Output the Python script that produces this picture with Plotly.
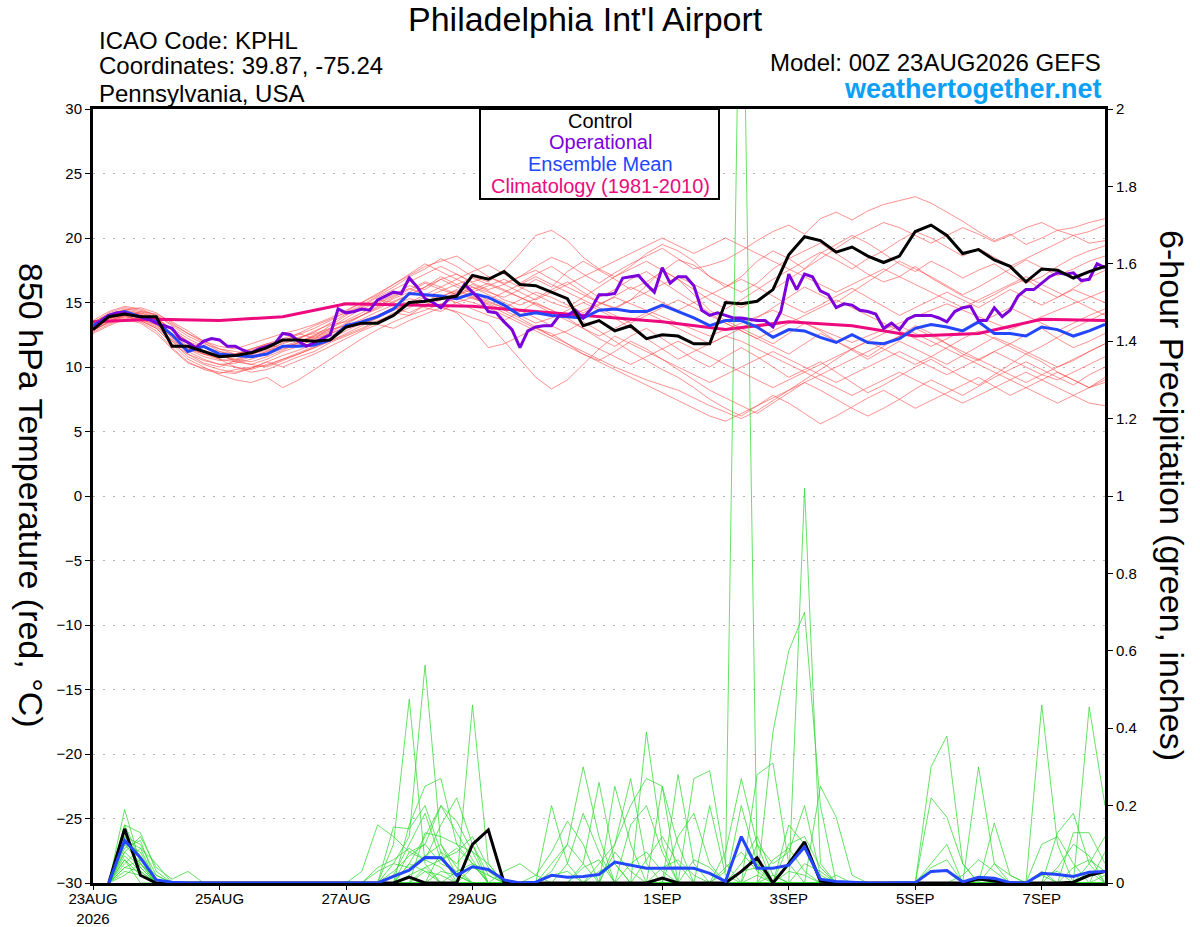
import pandas as pd
import plotly.graph_objects as go

# ---------------- data ----------------
RUN_START = "2026-08-23 00:00"

# Control 850 hPa temperature (6-hourly, 65 steps)
CONTROL_T = [12.9, 13.9, 14.1, 13.9, 13.9, 11.6, 11.6, 11.2, 10.8, 10.9,
             11.1, 11.5, 12.1, 12.1, 12.0, 12.1, 13.1, 13.4, 13.4, 14.0,
             15.0, 15.1, 15.3, 15.5, 17.1, 16.8, 17.4, 16.4, 16.3, 15.8,
             15.3, 13.2, 13.6, 12.8, 13.2, 12.2, 12.5, 12.4, 11.8, 11.8,
             15.0, 14.9, 15.1, 16.0, 18.7, 20.1, 19.8, 18.9, 19.3, 18.6,
             18.1, 18.6, 20.5, 21.0, 20.2, 18.8, 19.1, 18.3, 17.8, 16.6,
             17.6, 17.5, 16.9, 17.4, 17.8]

# Ensemble mean temperature (6-hourly, 65 steps)
MEAN_T = [13.2, 14.0, 14.3, 13.9, 13.5, 12.5, 11.2, 11.6, 11.0, 10.9,
          10.8, 11.0, 11.6, 11.6, 11.7, 12.1, 13.2, 13.5, 13.9, 14.5,
          15.7, 15.6, 15.5, 15.3, 15.7, 15.4, 14.8, 14.0, 14.2, 14.0,
          13.9, 13.8, 14.4, 14.5, 14.3, 14.3, 14.8, 14.3, 13.8, 13.2,
          13.6, 13.6, 13.1, 12.3, 12.9, 12.8, 12.3, 11.9, 12.5, 11.9,
          11.8, 12.2, 13.0, 13.3, 13.1, 12.8, 13.5, 12.6, 12.6, 12.4,
          13.1, 12.9, 12.4, 12.8, 13.3]

# Operational temperature (3-hourly, 129 steps)
OPER_T = [12.9, 13.6, 14.0, 14.2, 14.2, 14.0, 13.9, 13.7, 13.4, 13.2,
          13.0, 12.2, 11.9, 11.5, 12.0, 12.2, 12.1, 11.6, 11.6, 11.3,
          11.1, 11.4, 11.6, 11.8, 12.6, 12.5, 12.0, 11.6, 11.9, 12.2,
          12.5, 14.5, 14.2, 14.3, 14.5, 14.4, 15.2, 15.5, 15.8, 15.7,
          16.9, 16.2, 15.3, 15.0, 14.6, 15.3, 15.5, 16.4, 15.8, 15.2,
          14.3, 14.2, 13.5, 12.9, 11.5, 12.8, 13.1, 13.2, 13.2, 14.0,
          14.0, 14.4, 13.8, 14.5, 15.6, 15.6, 15.7, 16.9, 17.0, 17.1,
          16.4, 15.8, 17.7, 16.5, 17.0, 17.0, 16.3, 14.4, 14.0, 14.2,
          14.0, 13.8, 13.8, 13.7, 13.6, 13.6, 13.1, 14.3, 17.2, 16.0,
          17.2, 17.0, 15.9, 15.6, 14.6, 14.9, 14.8, 14.4, 14.3, 14.1,
          13.0, 13.4, 12.9, 13.7, 14.0, 14.0, 14.0, 13.8, 13.5, 14.3,
          14.6, 14.7, 13.6, 13.6, 14.6, 13.9, 14.4, 15.5, 16.0, 16.0,
          16.5, 17.0, 17.3, 17.2, 17.3, 16.7, 16.8, 18.0, 17.7]

# Climatology 1981-2010 (daily, 17 days)
CLIM_T = [13.5, 13.7, 13.6, 13.9, 14.9, 14.8, 14.7, 14.3, 13.9, 13.5,
          12.9, 13.5, 13.2, 12.4, 12.6, 13.7, 13.6]

# Ensemble members temperature (6-hourly, 65 steps each)
MEMBERS_T = [
    [13.0, 13.8, 14.2, 14.0, 13.6,
     12.4, 11.5, 11.0, 10.6, 10.4, 10.8, 11.2, 11.9, 12.3, 12.6, 13.0,
     13.8, 14.5, 15.0, 15.6, 16.3, 16.0, 16.8, 17.2, 16.5, 16.0,
     16.4, 17.0, 17.8, 18.5, 18.0, 17.2, 16.5, 17.3, 18.0, 18.6, 19.2, 18.4, 17.6, 17.9, 18.3,
     19.0, 19.8, 20.5, 21.0, 20.3, 21.5, 22.0, 21.4, 22.1, 22.6, 22.9, 23.2, 22.7, 22.0, 21.3, 20.5,
     19.8, 20.3, 19.5, 20.0, 20.6, 20.2, 20.5, 21.0],
    [13.3, 14.0, 14.5, 14.3, 13.9,
     12.8, 12.0, 11.5, 11.2, 11.0, 11.4, 11.8, 12.0, 12.6, 13.2, 13.7,
     14.2, 14.8, 15.5, 16.2, 17.0, 17.6, 18.4, 17.8, 17.0, 16.6,
     17.5, 18.8, 20.2, 20.6, 19.8, 18.5, 17.6, 17.0, 17.8, 18.8, 19.5, 19.0, 18.2, 17.0, 16.2,
     17.0, 18.2, 19.0, 18.4, 17.6, 18.8, 19.5, 20.2, 19.6, 18.8, 18.0, 17.4, 18.2, 17.6, 16.9, 17.5,
     18.0, 17.2, 16.5, 17.0, 17.8, 18.5, 19.0, 19.4],
    [12.8, 13.5, 14.0, 14.2, 13.8,
     12.2, 11.0, 10.3, 10.0, 10.5, 10.9, 11.5, 12.0, 12.2, 12.8, 13.3,
     13.5, 14.0, 14.6, 15.3, 15.8, 16.5, 16.0, 15.6, 16.2, 15.8,
     15.4, 16.0, 16.8, 16.2, 17.4, 18.2, 17.5, 16.8, 16.0, 16.6, 17.4, 18.3, 17.9, 17.0, 16.4,
     15.8, 16.5, 17.6, 18.4, 19.0, 19.6, 18.8, 18.0, 17.2, 16.6, 17.0, 17.8, 16.9, 16.2, 15.5, 15.0,
     15.6, 16.3, 16.8, 16.0, 15.4, 16.1, 16.9, 17.5],
    [13.5, 14.1, 14.4, 14.0, 13.7,
     13.0, 12.2, 11.6, 11.0, 10.4, 10.2, 10.6, 11.2, 11.6, 12.2, 13.0,
     13.6, 14.2, 14.9, 15.5, 16.1, 15.6, 15.2, 15.8, 16.4, 15.9,
     15.2, 14.8, 15.3, 16.0, 16.6, 15.8, 15.0, 14.5, 15.2, 16.3, 17.5, 16.8, 15.6, 14.4, 13.6,
     13.0, 12.4, 11.8, 12.6, 13.4, 12.8, 12.0, 11.4, 10.8, 11.6, 12.4, 13.2, 12.6, 11.8, 11.0, 10.5,
     11.2, 11.8, 12.5, 13.0, 12.2, 11.5, 12.0, 12.6],
    [13.2, 13.9, 14.3, 14.1, 13.3,
     12.0, 10.8, 10.2, 9.8, 9.6, 9.9, 10.4, 10.9, 11.3, 11.8, 12.4,
     13.0, 13.3, 13.8, 14.5, 15.0, 14.6, 14.3, 15.0, 15.4, 14.8,
     14.2, 13.6, 13.0, 12.4, 12.8, 13.5, 12.8, 12.0, 11.2, 10.5, 9.8, 9.2, 8.4, 7.5, 6.8,
     6.2, 7.0, 7.8, 7.2, 6.4, 5.6, 6.2, 6.9, 7.6, 8.2, 7.5, 6.8, 7.4, 8.0, 8.6, 9.2,
     8.5, 7.8, 8.4, 9.0, 9.6, 9.0, 8.4, 9.2],
    [13.0, 13.6, 14.0, 13.5, 12.8,
     11.5, 10.4, 9.8, 9.5, 9.8, 10.0, 10.1, 10.6, 11.0, 11.5, 12.0,
     12.5, 13.0, 13.6, 14.0, 14.6, 15.2, 14.7, 14.2, 13.0, 11.5,
     11.8, 12.4, 13.0, 12.6, 11.8, 11.0, 10.5, 11.2, 12.0, 11.4, 10.6, 9.8, 9.0, 8.2, 7.6,
     7.0, 6.4, 7.2, 8.0, 8.8, 8.2, 7.5, 6.8, 6.2, 6.8, 7.5, 8.3, 9.0, 8.4, 7.8, 8.5,
     9.2, 9.8, 10.4, 9.8, 9.2, 8.6, 9.4, 10.0],
    [12.7, 13.3, 13.8, 13.6, 13.0,
     11.8, 11.0, 10.5, 10.2, 10.0, 9.6, 9.8, 10.3, 10.8, 11.2, 11.9,
     12.4, 12.9, 13.5, 14.2, 14.0, 14.8, 15.4, 15.0, 14.5, 14.0,
     13.6, 14.3, 15.0, 14.4, 13.8, 13.0, 12.2, 11.6, 12.4, 13.0, 12.2, 11.4, 10.6, 10.0, 10.8,
     11.5, 10.8, 10.0, 9.2, 9.8, 10.4, 9.6, 8.8, 8.0, 8.6, 9.3, 10.0, 10.6, 9.9, 9.2, 8.6,
     9.4, 10.2, 11.0, 10.4, 9.6, 9.0, 8.4, 8.8],
    [13.4, 14.2, 14.6, 14.4, 14.0,
     13.2, 12.4, 11.8, 11.4, 11.2, 11.0, 11.3, 11.6, 11.8, 12.4, 13.2,
     14.0, 14.6, 15.2, 15.0, 15.6, 16.2, 17.0, 16.4, 15.8, 16.3,
     16.8, 16.2, 15.6, 15.0, 14.6, 15.4, 16.2, 17.0, 17.6, 18.2, 17.5, 16.8, 16.0, 15.2, 14.5,
     15.2, 16.0, 16.8, 17.5, 18.2, 18.9, 18.3, 17.6, 18.4, 19.0, 19.8, 20.5, 20.0, 19.3, 18.6, 19.2,
     18.5, 17.8, 18.4, 19.0, 19.6, 20.2, 19.6, 19.8],
    [13.1, 13.7, 14.1, 13.9, 13.5,
     12.5, 11.6, 11.0, 10.7, 10.9, 11.3, 11.7, 11.5, 11.9, 12.5, 12.9,
     13.2, 13.7, 14.3, 14.8, 15.3, 15.0, 15.5, 15.9, 15.4, 15.0,
     14.6, 15.2, 15.8, 15.4, 14.8, 14.2, 14.8, 15.5, 16.2, 15.6, 15.0, 14.4, 15.0, 15.6, 16.2,
     16.8, 16.2, 15.5, 14.8, 14.2, 14.8, 15.5, 16.1, 15.4, 14.7, 14.0, 14.6, 15.2, 15.8, 15.2, 14.6,
     15.3, 16.0, 15.4, 14.8, 15.4, 16.0, 15.5, 15.0],
    [12.9, 13.4, 13.9, 13.7, 13.1,
     12.0, 11.2, 10.6, 10.2, 10.3, 10.6, 11.0, 11.4, 11.7, 12.1, 12.6,
     13.1, 13.6, 14.0, 14.6, 15.1, 14.7, 15.2, 15.7, 15.3, 14.9,
     14.4, 13.8, 13.1, 12.4, 11.8, 11.2, 10.6, 10.0, 9.5, 9.0, 8.6, 8.2, 7.6, 7.0, 6.5,
     6.0, 6.6, 7.4, 8.2, 9.0, 9.8, 10.6, 11.4, 12.0, 11.4, 10.8, 10.2, 10.8, 11.5, 12.2, 12.8,
     12.2, 11.6, 11.0, 11.6, 12.3, 13.0, 13.6, 14.2],
    [13.6, 14.3, 14.7, 14.5, 14.0,
     13.3, 12.6, 12.0, 11.6, 11.4, 11.8, 12.2, 12.6, 12.9, 13.3, 13.8,
     14.4, 15.0, 15.6, 16.4, 17.2, 18.0, 17.4, 16.8, 17.4, 17.9,
     17.2, 16.5, 17.2, 17.8, 17.0, 16.2, 15.4, 16.0, 16.8, 17.4, 16.6, 15.8, 15.0, 14.2, 13.4,
     12.8, 12.2, 11.6, 11.0, 11.8, 12.6, 12.0, 11.3, 10.6, 11.3, 12.0, 11.4, 10.8, 10.2, 10.9, 11.6,
     12.3, 11.8, 11.2, 10.6, 10.0, 10.5, 11.2, 11.8],
    [13.2, 13.8, 14.2, 14.1, 13.6,
     12.6, 11.8, 11.2, 10.9, 10.6, 10.4, 10.8, 11.3, 11.9, 12.3, 12.7,
     13.3, 14.0, 14.7, 15.4, 16.0, 16.6, 16.2, 15.6, 16.0, 16.5,
     16.0, 15.4, 14.8, 14.2, 13.6, 13.0, 12.4, 13.0, 13.6, 14.2, 13.6, 13.0, 12.4, 11.8, 12.4,
     13.0, 13.8, 14.6, 15.4, 16.2, 15.6, 15.0, 15.8, 16.6, 17.4, 18.2, 17.6, 17.0, 16.3, 15.6, 16.2,
     16.9, 17.6, 18.3, 17.7, 17.1, 17.6, 18.2, 18.6],
    [12.6, 13.2, 13.7, 13.4, 12.6,
     11.4, 10.3, 9.9, 9.6, 9.5, 9.9, 10.4, 10.0, 10.5, 11.0, 11.6,
     12.2, 12.8, 13.3, 13.0, 13.6, 14.1, 14.6, 14.3, 13.8, 13.4,
     12.0, 10.6, 9.2, 8.3, 9.0, 10.2, 11.4, 12.4, 11.8, 11.2, 10.6, 10.0, 9.4, 8.8, 9.4,
     10.0, 10.6, 11.2, 10.6, 10.0, 9.4, 8.8, 9.4, 10.0, 10.6, 11.2, 10.6, 10.0, 9.4, 10.0, 10.6,
     11.2, 10.6, 10.0, 9.4, 9.0, 9.6, 10.2, 10.8],
    [13.0, 13.7, 14.2, 13.9, 13.4,
     12.3, 11.4, 10.8, 10.5, 10.6, 11.0, 11.4, 11.8, 12.2, 12.7, 13.4,
     14.1, 14.7, 15.4, 16.0, 16.6, 17.2, 17.8, 17.2, 16.6, 17.0,
     16.5, 17.0, 17.5, 16.8, 16.2, 15.6, 15.0, 14.6, 15.2, 15.8, 16.4, 17.0, 16.4, 15.8, 15.2,
     14.6, 15.2, 16.0, 16.8, 17.6, 18.4, 19.2, 20.0, 20.6, 21.2, 20.8, 20.2, 19.6, 20.2, 20.8, 20.3,
     19.7, 20.2, 20.8, 21.2, 20.6, 20.8, 21.2, 21.5],
    [13.3, 13.9, 14.4, 14.2, 13.8,
     12.9, 12.0, 11.2, 10.6, 10.0, 9.8, 10.2, 10.6, 11.1, 11.6, 12.2,
     12.8, 13.4, 14.0, 14.6, 14.2, 14.8, 15.4, 16.0, 15.5, 15.1,
     14.6, 14.0, 13.4, 13.8, 14.4, 15.0, 14.4, 13.8, 13.0, 12.2, 11.4, 10.6, 11.2, 11.8, 12.4,
     12.0, 11.4, 10.8, 10.2, 9.6, 9.0, 8.4, 7.8, 8.4, 9.0, 9.6, 9.0, 8.4, 7.8, 7.2, 7.8,
     8.4, 9.0, 9.6, 9.0, 8.4, 7.8, 7.2, 7.0],
    [12.8, 13.5, 14.1, 13.8, 13.2,
     12.1, 11.4, 11.0, 10.8, 11.0, 11.4, 11.8, 12.2, 12.6, 12.2, 12.6,
     13.0, 13.4, 13.9, 14.4, 14.9, 15.4, 15.9, 16.4, 16.9, 16.4,
     15.9, 15.4, 14.9, 14.4, 13.9, 14.4, 14.9, 15.4, 14.9, 14.4, 13.9, 13.4, 12.9, 12.4, 12.9,
     13.4, 13.9, 14.4, 13.9, 13.4, 12.9, 12.4, 11.9, 12.4, 12.9, 13.4, 13.9, 14.4, 14.9, 14.4, 13.9,
     13.4, 12.9, 13.4, 13.9, 14.4, 14.9, 15.4, 15.9],
    [13.4, 13.8, 14.0, 13.6, 13.0,
     11.8, 10.6, 10.0, 9.4, 9.0, 8.8, 9.2, 8.4, 9.0, 9.8, 10.6,
     11.4, 12.2, 12.9, 13.5, 14.0, 14.4, 14.9, 15.3, 15.0, 14.6,
     14.0, 13.4, 12.8, 12.2, 11.6, 11.0, 10.4, 9.8, 9.2, 8.6, 8.0, 7.4, 6.8, 6.2, 5.8,
     6.4, 7.0, 7.6, 8.2, 8.8, 9.4, 10.0, 10.6, 11.2, 11.8, 12.4, 13.0, 12.4, 11.8, 11.2, 10.6,
     10.0, 9.4, 8.8, 9.4, 10.0, 10.6, 11.2, 11.8],
    [13.1, 13.6, 14.0, 14.3, 14.1,
     13.5, 12.8, 12.0, 11.4, 11.0, 10.8, 11.2, 11.6, 12.0, 12.4, 12.8,
     13.4, 14.0, 14.5, 15.1, 15.6, 16.2, 16.8, 16.2, 15.7, 15.2,
     15.8, 16.4, 17.0, 16.4, 15.8, 15.2, 14.6, 14.0, 13.4, 14.0, 14.6, 15.2, 14.6, 14.0, 13.4,
     12.8, 12.2, 12.8, 13.4, 14.0, 14.6, 15.2, 14.6, 14.0, 13.4, 12.8, 12.2, 11.6, 12.2, 12.8, 13.4,
     14.0, 14.6, 14.0, 13.4, 12.8, 13.4, 14.0, 14.5],
    [12.9, 13.5, 13.9, 13.7, 13.3,
     12.5, 11.9, 11.3, 10.9, 10.5, 10.2, 10.0, 10.5, 11.0, 11.5, 12.0,
     12.6, 13.2, 13.8, 14.4, 15.0, 15.6, 16.2, 16.8, 16.2, 15.6,
     15.0, 14.4, 13.8, 13.2, 12.6, 12.0, 11.4, 10.8, 10.2, 10.8, 11.4, 12.0, 11.4, 10.8, 10.2,
     9.6, 9.0, 8.4, 9.0, 9.6, 10.2, 10.8, 11.4, 12.0, 12.6, 13.2, 12.6, 12.0, 11.4, 10.8, 10.2,
     9.6, 9.0, 8.4, 7.8, 7.2, 7.8, 8.4, 9.0],
    [13.5, 14.0, 14.4, 14.6, 14.2,
     13.4, 12.6, 11.9, 11.2, 10.8, 11.2, 11.6, 12.0, 12.5, 13.0, 13.6,
     14.3, 15.0, 15.7, 16.4, 17.1, 17.8, 18.2, 18.6, 17.8, 17.0,
     16.4, 15.8, 15.2, 15.8, 16.4, 17.0, 17.6, 18.2, 18.8, 19.4, 20.0, 19.4, 18.8, 19.4, 20.0,
     19.4, 18.8, 18.2, 17.6, 17.0, 16.4, 15.8, 16.4, 17.0, 17.6, 17.0, 16.4, 15.8, 15.2, 14.6, 15.2,
     15.8, 16.4, 17.0, 16.4, 15.8, 15.2, 14.6, 14.0],
]

# 6-hour precipitation (inches), steps 06Z 23AUG ... 00Z 08SEP (64 steps)
CONTROL_P = [0, .14, .02, 0, 0, 0, 0, 0,
             0, 0, 0, 0, 0, 0, 0, 0,
             0, 0, 0, .015, 0, 0, 0, .10,
             .137, 0, 0, 0, 0, 0, 0, 0,
             0, 0, 0, .013, 0, 0, 0, 0,
             .03, .065, 0, .05, .106, .005, 0, 0,
             0, 0, 0, 0, 0, 0, 0, .01,
             .005, 0, 0, 0, 0, .002, .02, .03]

MEAN_P = [0, .11, .065, .008, .002, 0, 0, 0,
          0, 0, 0, 0, 0, 0, 0, 0,
          0, 0, .017, .033, .066, .065, .02, .042,
          .035, .008, 0, .002, .02, .015, .017, .022,
          .054, .046, .038, .038, .039, .038, .025, .004,
          .12, .038, .038, .046, .093, .01, .004, .002,
          0, 0, 0, .001, .03, .032, .003, .015,
          .012, .001, 0, .025, .022, .017, .028, .03]

MEMBERS_P = [
    [0, .19, .05, 0, 0, 0, 0, 0,  0, 0, 0, 0, 0, 0, 0, 0,
     0, 0, .05, .12, .563, .10, .02, 0,  0, 0, 0, 0, .05, .10, .30, .12,
     0, 0, 0, 0, 0, 0, 0, .03,  2.7, .05, 0, 0, 0, 0, 0, 0,
     0, 0, 0, 0, .30, .38, .05, 0,  0, 0, 0, .02, 0, 0, 0, 0],
    [0, .15, .13, .03, 0, 0, 0, 0,  0, 0, 0, 0, 0, 0, 0, 0,
     0, 0, .10, .475, .05, 0, 0, .46,  .05, 0, 0, 0, 0, 0, 0, 0,
     .10, .27, .05, 0, 0, 0, 0, 0,  0, 0, 0, 0, 1.02, .05, 0, 0,
     0, 0, 0, 0, 0, 0, 0, 0,  0, 0, 0, .46, .10, 0, 0, 0],
    [0, .12, .10, .02, 0, 0, 0, 0,  0, 0, 0, 0, 0, 0, 0, 0,
     0, 0, 0, .15, .25, .27, .10, .05,  0, 0, 0, 0, 0, 0, 0, 0,
     0, 0, .39, .10, 0, 0, 0, 0,  0, 0, .39, .60, .70, .20, 0, 0,
     0, 0, 0, 0, 0, 0, 0, 0,  0, 0, 0, 0, 0, 0, .455, .20],
    [0, .08, .12, .04, .01, .03, 0, 0,  0, 0, 0, 0, 0, 0, 0, 0,
     0, 0, .145, .14, .20, .08, 0, 0,  0, 0, 0, 0, .20, .05, 0, 0,
     0, 0, 0, 0, .28, .05, 0, 0,  0, .28, .31, .05, 0, 0, 0, 0,
     0, 0, 0, 0, .22, .17, .05, 0,  .155, .02, 0, 0, 0, 0, 0, 0],
    [0, .10, .08, 0, 0, 0, 0, 0,  0, 0, 0, 0, 0, 0, 0, 0,
     .03, .15, .12, .08, .10, .20, .16, .08,  0, 0, 0, 0, 0, 0, .05, .26,
     .05, 0, 0, 0, 0, 0, 0, .08,  .27, .10, 0, 0, 0, 0, 0, 0,
     0, 0, 0, 0, 0, 0, 0, .30,  .05, 0, 0, 0, .13, .18, .05, 0],
    [0, .05, .09, .05, 0, 0, 0, 0,  0, 0, 0, 0, 0, 0, 0, 0,
     0, 0, 0, .08, .06, .15, .22, .10,  0, 0, 0, 0, 0, 0, 0, 0,
     .25, .10, 0, 0, 0, .27, .29, .05,  0, 0, 0, 0, 0, .25, .17, .02,
     0, 0, 0, 0, 0, 0, 0, 0,  0, 0, 0, 0, 0, .13, .13, .05],
    [0, .15, .06, 0, 0, 0, 0, 0,  0, 0, 0, 0, 0, 0, 0, 0,
     0, 0, 0, 0, .13, .12, .10, .08,  .05, 0, 0, 0, 0, 0, 0, .05,
     .10, .20, .27, .25, 0, 0, 0, 0,  .05, .12, .02, 0, 0, 0, 0, 0,
     0, 0, 0, 0, .05, .10, 0, 0,  0, 0, 0, .10, .12, .05, 0, 0],
    [0, .07, .03, 0, 0, 0, 0, 0,  0, 0, 0, 0, 0, 0, 0, 0,
     0, .04, .06, .09, .06, .04, 0, 0,  0, 0, 0, .02, .08, .16, .10, 0,
     0, 0, 0, .25, .10, 0, 0, 0,  0, 0, 0, .15, .10, 0, 0, 0,
     0, 0, 0, 0, 0, 0, 0, 0,  0, 0, 0, 0, 0, 0, 0, .08],
    [0, .12, .07, .01, 0, 0, 0, 0,  0, 0, 0, 0, 0, 0, 0, 0,
     0, 0, 0, .05, .12, .20, .13, .06,  0, 0, 0, 0, 0, .05, .18, .08,
     0, 0, 0, 0, 0, 0, .20, .02,  0, .10, .05, .08, .20, .02, 0, 0,
     0, 0, 0, 0, 0, 0, 0, 0,  .05, .02, 0, 0, 0, 0, 0, 0],
    [0, .09, .11, 0, 0, 0, 0, 0,  0, 0, 0, 0, 0, 0, 0, 0,
     0, 0, .02, .10, .18, .06, .08, .12,  .04, 0, 0, 0, 0, 0, 0, 0,
     0, .15, .20, .08, 0, 0, 0, 0,  .20, .05, 0, 0, 0, 0, 0, 0,
     0, 0, 0, 0, 0, 0, 0, 0,  0, 0, 0, 0, .04, .10, .07, 0],
    [0, .04, .06, .02, 0, 0, 0, 0,  0, 0, 0, 0, 0, 0, 0, 0,
     0, 0, 0, 0, 0, .08, .05, .10,  .02, 0, 0, 0, 0, 0, 0, 0,
     0, 0, 0, 0, .12, .18, .05, 0,  0, 0, 0, .10, .12, .04, 0, 0,
     0, 0, 0, 0, .04, .06, 0, 0,  0, 0, 0, 0, 0, 0, 0, 0],
    [0, .13, .04, 0, 0, 0, 0, 0,  0, 0, 0, 0, 0, 0, 0, 0,
     0, 0, .03, .07, .10, .05, .03, 0,  0, 0, 0, 0, .03, .10, .05, 0,
     0, 0, 0, 0, 0, 0, 0, 0,  0, 0, .06, .09, .03, 0, 0, 0,
     0, 0, 0, 0, 0, 0, 0, 0,  0, 0, 0, 0, 0, 0, .05, .12],
    [0, .06, .02, 0, 0, 0, 0, 0,  0, 0, 0, 0, 0, 0, 0, 0,
     0, .03, .05, .04, .07, .10, .04, 0,  0, 0, 0, 0, 0, 0, 0, 0,
     .08, .03, 0, 0, 0, 0, 0, .04,  .08, .03, 0, 0, 0, 0, 0, 0,
     0, 0, 0, 0, 0, 0, .02, .06,  .03, 0, 0, 0, 0, 0, 0, 0],
    [0, .10, .05, 0, 0, 0, 0, 0,  0, 0, 0, 0, 0, 0, 0, 0,
     0, 0, 0, 0, .04, .06, .09, .05,  0, 0, 0, 0, 0, 0, 0, 0,
     0, 0, .06, .12, .05, 0, 0, 0,  0, 0, 0, 0, .05, .03, 0, 0,
     0, 0, 0, 0, 0, 0, 0, 0,  0, 0, 0, 0, 0, .04, .06, .03],
    [0, .03, .02, 0, 0, 0, 0, 0,  0, 0, 0, 0, 0, 0, 0, 0,
     0, 0, 0, 0, 0, 0, .03, .05,  .03, 0, 0, 0, 0, 0, .04, .06,
     0, 0, 0, 0, 0, 0, 0, 0,  .03, .04, 0, 0, 0, 0, 0, 0,
     0, 0, 0, 0, 0, 0, 0, 0,  0, 0, 0, .02, .03, 0, 0, 0],
    [0, .11, .09, 0, 0, 0, 0, 0,  0, 0, 0, 0, 0, 0, 0, 0,
     0, 0, 0, .05, .03, .02, 0, 0,  0, .03, .05, .02, 0, 0, 0, 0,
     0, 0, 0, 0, 0, .06, .04, 0,  0, 0, 0, 0, 0, 0, .02, 0,
     0, 0, 0, 0, 0, 0, 0, 0,  0, 0, 0, 0, 0, 0, 0, 0],
    [0, .08, .04, 0, 0, 0, 0, 0,  0, 0, 0, 0, 0, 0, 0, 0,
     0, 0, 0, 0, 0, .03, .02, 0,  0, 0, 0, 0, 0, 0, 0, 0,
     0, .05, .08, .03, 0, 0, 0, 0,  0, 0, 0, .03, .02, 0, 0, 0,
     0, 0, 0, 0, 0, 0, 0, 0,  0, 0, 0, .03, 0, 0, 0, 0],
    [0, .02, .05, .01, 0, 0, 0, 0,  0, 0, 0, 0, 0, 0, 0, 0,
     0, 0, 0, .02, .04, 0, 0, 0,  0, 0, 0, 0, 0, 0, 0, 0,
     0, 0, 0, .04, .06, .02, 0, 0,  0, 0, .02, 0, 0, 0, 0, 0,
     0, 0, 0, 0, 0, 0, 0, 0,  0, 0, 0, 0, 0, 0, 0, 0],
    [0, .06, 0, 0, 0, 0, 0, 0,  0, 0, 0, 0, 0, 0, 0, 0,
     0, 0, 0, 0, 0, 0, 0, .04,  .02, 0, 0, 0, 0, 0, 0, .03,
     .05, 0, 0, 0, 0, 0, 0, 0,  0, .02, 0, 0, 0, 0, 0, 0,
     0, 0, 0, 0, 0, 0, 0, 0,  0, 0, 0, 0, 0, 0, 0, .02],
    [0, .04, .03, 0, 0, 0, 0, 0,  0, 0, 0, 0, 0, 0, 0, 0,
     0, 0, 0, 0, .03, 0, 0, 0,  0, 0, 0, 0, .02, .03, 0, 0,
     0, 0, 0, 0, 0, 0, 0, 0,  0, 0, 0, 0, 0, 0, 0, 0,
     0, 0, 0, 0, 0, 0, 0, 0,  0, 0, 0, 0, 0, 0, .03, 0],
]

TICK_DATES = ["2026-08-23", "2026-08-25", "2026-08-27", "2026-08-29",
              "2026-09-01", "2026-09-03", "2026-09-05", "2026-09-07"]
TICK_LABELS = ["23AUG<br>2026", "25AUG", "27AUG", "29AUG",
               "1SEP", "3SEP", "5SEP", "7SEP"]

# ---------------- figure ----------------
t6 = pd.date_range(RUN_START, periods=len(CONTROL_T), freq="6h")
t3 = pd.date_range(RUN_START, periods=len(OPER_T), freq="3h")
t24 = pd.date_range(RUN_START, periods=len(CLIM_T), freq="24h")
tp = pd.date_range(pd.Timestamp(RUN_START) + pd.Timedelta(hours=6),
                   periods=len(CONTROL_P), freq="6h")

FONT = "Liberation Sans, Arial, Helvetica, sans-serif"
RED = "rgba(255,70,70,0.75)"
GREEN = "rgba(40,215,40,0.9)"
BLACK = "#000000"
PURPLE = "#7B00DC"
BLUE = "#2446FF"
PINK = "#EC0A7E"

fig = go.Figure()

for m in MEMBERS_T:
    fig.add_trace(go.Scatter(x=t6, y=m, mode="lines", yaxis="y",
                             line=dict(color=RED, width=0.8),
                             showlegend=False, hoverinfo="skip"))

fig.add_trace(go.Scatter(x=t24, y=CLIM_T, mode="lines", yaxis="y",
                         line=dict(color=PINK, width=3), showlegend=False))
fig.add_trace(go.Scatter(x=t6, y=MEAN_T, mode="lines", yaxis="y",
                         line=dict(color=BLUE, width=3), showlegend=False))
fig.add_trace(go.Scatter(x=t3, y=OPER_T, mode="lines", yaxis="y",
                         line=dict(color=PURPLE, width=3), showlegend=False))
fig.add_trace(go.Scatter(x=t6, y=CONTROL_T, mode="lines", yaxis="y",
                         line=dict(color=BLACK, width=3), showlegend=False))

for m in MEMBERS_P:
    fig.add_trace(go.Scatter(x=tp, y=m, mode="lines", yaxis="y2",
                             line=dict(color=GREEN, width=0.8),
                             showlegend=False, hoverinfo="skip"))
fig.add_trace(go.Scatter(x=tp, y=CONTROL_P, mode="lines", yaxis="y2",
                         line=dict(color=BLACK, width=3), showlegend=False))
fig.add_trace(go.Scatter(x=tp, y=MEAN_P, mode="lines", yaxis="y2",
                         line=dict(color=BLUE, width=3), showlegend=False))

tickfont = dict(family=FONT, size=15, color="black")

fig.update_layout(
    width=1200, height=927,
    margin=dict(l=93, r=95, t=109, b=44, pad=0, autoexpand=False),
    paper_bgcolor="white", plot_bgcolor="white",
    showlegend=False,
    font=dict(family=FONT, color="black"),
    xaxis=dict(
        type="date", automargin=False,
        range=[t6[0], t6[-1]],
        tickvals=pd.to_datetime(TICK_DATES), ticktext=TICK_LABELS,
        tickfont=tickfont, ticks="outside", ticklen=4, tickwidth=1,
        tickcolor="black", showgrid=False, zeroline=False,
        ticklabelstandoff=-4,
        showline=True, linewidth=3, linecolor="black", mirror=True,
    ),
    yaxis=dict(
        range=[-30, 30], dtick=5, tick0=0, automargin=False,
        tickfont=tickfont, ticks="outside", ticklen=5, tickwidth=1,
        tickcolor="black",
        showgrid=True, gridcolor="#b4b4b4", gridwidth=1,
        griddash="2px,8px",
        zeroline=False,
        showline=True, linewidth=3, linecolor="black",
    ),
    yaxis2=dict(
        range=[0, 2], dtick=0.2, tick0=0, overlaying="y", side="right",
        automargin=False,
        tickfont=tickfont, ticks="outside", ticklen=5, tickwidth=1,
        tickcolor="black", showgrid=False, zeroline=False,
        showline=True, linewidth=3, linecolor="black",
    ),
)

PW, PH = 1012.0, 774.0  # plot area size in px, for converting layout positions


def px_x(px):
    return (px - 93) / PW


def px_y(py):
    return (883 - py) / PH


annotations = [
    dict(text="Philadelphia Int'l Airport", x=px_x(585), y=px_y(19),
         font=dict(size=34)),
    dict(text="ICAO Code: KPHL", x=px_x(97), y=px_y(40), xanchor="left",
         font=dict(size=24)),
    dict(text="Coordinates: 39.87, -75.24", x=px_x(97), y=px_y(66),
         xanchor="left", font=dict(size=24)),
    dict(text="Pennsylvania, USA", x=px_x(97), y=px_y(93), xanchor="left",
         font=dict(size=24)),
    dict(text="Model: 00Z 23AUG2026 GEFS", x=px_x(1103), y=px_y(63),
         xanchor="right", font=dict(size=24)),
    dict(text="<b>weathertogether.net</b>", x=px_x(1104), y=px_y(89),
         xanchor="right", font=dict(size=27, color="#0BA0F5")),
    dict(text="850 hPa Temperature (red, °C)", x=px_x(31), y=px_y(495),
         textangle=90, font=dict(size=34)),
    dict(text="6-hour Precipitation (green, inches)", x=px_x(1172),
         y=px_y(495), textangle=90, font=dict(size=34)),
    dict(text="Control", x=px_x(600), y=px_y(121), font=dict(size=20)),
    dict(text="Operational", x=px_x(600), y=px_y(142),
         font=dict(size=20, color=PURPLE)),
    dict(text="Ensemble Mean", x=px_x(600), y=px_y(164),
         font=dict(size=20, color=BLUE)),
    dict(text="Climatology (1981-2010)", x=px_x(600), y=px_y(186),
         font=dict(size=20, color=PINK)),
]
for a in annotations:
    a.setdefault("xanchor", "center")
    a.update(xref="paper", yref="paper", yanchor="middle", showarrow=False)
    a["font"].setdefault("family", FONT)
    a["font"].setdefault("color", "black")
fig.update_layout(annotations=annotations)

fig.add_shape(type="rect", xref="paper", yref="paper",
              x0=px_x(480), x1=px_x(719), y0=px_y(199), y1=px_y(109),
              line=dict(color="black", width=2), fillcolor="white",
              layer="above")

fig.write_html(
    "out.html",
    config={"displayModeBar": False},
    post_script="document.body.style.margin='0';"
                "document.body.style.overflow='hidden';",
)
